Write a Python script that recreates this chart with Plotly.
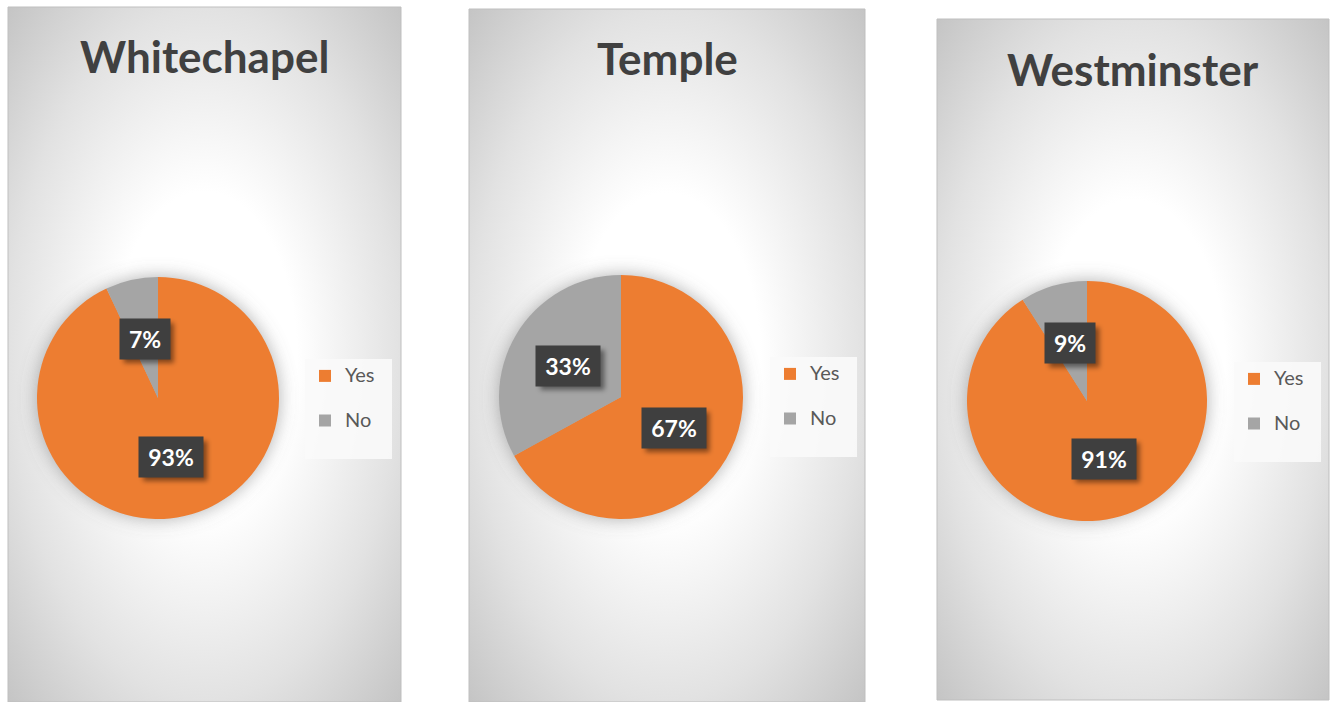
import base64
import math

import plotly.graph_objects as go

W, H = 1331, 702

# Survey answers per station (percent of respondents)
SITES = ["Whitechapel", "Temple", "Westminster"]
LABELS = ["Yes", "No"]
YES_PCT = [93, 67, 91]
NO_PCT = [7, 33, 9]

ORANGE = "#ED7D31"
GREY = "#A5A5A5"
TEXT_DARK = "#404040"

# Layout in pixels: panel frames (x0, y0, x1, y1) measured from the top-left,
# pie centre / radius, and legend box left edge / vertical centre.
PANELS = [(8, 7, 401, 702), (469, 9, 865, 702), (937, 19, 1329, 700)]
PIES = [(158, 398, 121), (621, 397, 122), (1087, 401, 120)]
LEGENDS = [(305, 409), (770, 407), (1234, 412)]
TITLE_Y = [56, 58, 69]


def px(x):
    return x / W


def py(y):
    return 1 - y / H


def svg_uri(svg):
    return "data:image/svg+xml;base64," + base64.b64encode(svg.encode()).decode()


def panel_background(w, h, cx, cy, r):
    """Radial grey-to-white fill with a soft glow behind the pie."""
    return f"""<svg xmlns="http://www.w3.org/2000/svg" width="{w}" height="{h}" viewBox="0 0 {w} {h}" preserveAspectRatio="none">
<defs>
<radialGradient id="g" cx="0.5" cy="0.5" r="0.71" gradientUnits="objectBoundingBox">
<stop offset="0" stop-color="#FFFFFF"/>
<stop offset="0.33" stop-color="#FFFFFF"/>
<stop offset="0.7" stop-color="#E2E2E2"/>
<stop offset="1" stop-color="#C4C4C4"/>
</radialGradient>
<filter id="b" x="-50%" y="-50%" width="200%" height="200%"><feGaussianBlur stdDeviation="9"/></filter>
</defs>
<rect width="{w}" height="{h}" fill="url(#g)"/>
<circle cx="{cx}" cy="{cy}" r="{r}" fill="#6F6F6F" fill-opacity="0.55" filter="url(#b)"/>
</svg>"""


def slice_midpoints(values):
    """Angles (radians, clockwise from 12 o'clock) of each slice centre."""
    total = sum(values)
    out, acc = [], 0.0
    for v in values:
        out.append(2 * math.pi * (acc + v / 2) / total)
        acc += v
    return out


fig = go.Figure()
images, shapes, annotations = [], [], []
shadow_rects = []
legend_layouts = {}

for i, site in enumerate(SITES):
    x0, y0, x1, y1 = PANELS[i]
    cx, cy, r = PIES[i]
    values = [YES_PCT[i], NO_PCT[i]]
    legend_id = "legend" if i == 0 else f"legend{i + 1}"

    images.append(dict(
        source=svg_uri(panel_background(x1 - x0, y1 - y0, cx - x0, cy - y0, r)),
        xref="paper", yref="paper", x=px(x0), y=py(y0),
        sizex=(x1 - x0) / W, sizey=(y1 - y0) / H,
        xanchor="left", yanchor="top", sizing="stretch", layer="below",
    ))
    shapes.append(dict(
        type="rect", xref="paper", yref="paper",
        x0=px(x0), x1=px(x1), y0=py(y1), y1=py(y0),
        line=dict(color="#BFBFBF", width=1), fillcolor="rgba(0,0,0,0)", layer="above",
    ))

    # larger first line for the label, blank second line for row spacing
    legend_text = [f"<span style='font-size:20px'>{lab}</span>\u00a0\u00a0\u00a0<br>\u00a0" for lab in LABELS]
    fig.add_trace(go.Pie(
        name=site,
        values=values,
        labels=legend_text,
        marker=dict(colors=[ORANGE, GREY], line=dict(width=0)),
        sort=False,
        direction="clockwise",
        rotation=0,
        textinfo="none",
        hoverinfo="skip",
        domain=dict(x=[px(cx - r), px(cx + r)], y=[py(cy + r), py(cy - r)]),
        legend=legend_id,
        legendgroup=site,
    ))

    lx, ly = LEGENDS[i]
    legend_layouts[legend_id] = dict(
        x=px(lx), y=py(ly), xanchor="left", yanchor="middle",
        bgcolor="rgba(250,250,250,0.9)", borderwidth=0,
        font=dict(family="Lato", size=16, color="#595959"),
        valign="top", itemclick=False, itemdoubleclick=False,
        visible=True,
    )

    annotations.append(dict(
        text=site, xref="paper", yref="paper", x=px((x0 + x1) / 2), y=py(TITLE_Y[i]),
        xanchor="center", yanchor="middle", showarrow=False,
        font=dict(family="Lato", size=44, color=TEXT_DARK, weight="bold"),
    ))

    # value labels sit halfway out along each slice's centre line
    for v, ang in zip(values, slice_midpoints(values)):
        lxp = cx + 0.5 * r * math.sin(ang)
        lyp = cy - 0.5 * r * math.cos(ang)
        bw = 50 if v < 10 else 64
        bh = 40
        shadow_rects.append((lxp - bw / 2 + 4, lyp - bh / 2 + 4, bw, bh))
        annotations.append(dict(
            text=f"{v}%", xref="paper", yref="paper", x=px(lxp), y=py(lyp),
            xanchor="center", yanchor="middle", showarrow=False,
            width=bw, height=bh, borderpad=0, bgcolor="#3F3F3F",
            font=dict(family="Lato", size=23, color="#FFFFFF", weight="bold"),
        ))

# soft drop shadows under the value label boxes
shadow_svg = (
    f'<svg xmlns="http://www.w3.org/2000/svg" width="{W}" height="{H}" viewBox="0 0 {W} {H}">'
    '<defs><filter id="s" x="-50%" y="-50%" width="200%" height="200%">'
    '<feGaussianBlur stdDeviation="2.5"/></filter></defs>'
    + "".join(
        f'<rect x="{x:.1f}" y="{y:.1f}" width="{w}" height="{h}" fill="#000" fill-opacity="0.45" filter="url(#s)"/>'
        for x, y, w, h in shadow_rects
    )
    + "</svg>"
)
images.append(dict(
    source=svg_uri(shadow_svg), xref="paper", yref="paper", x=0, y=1,
    sizex=1, sizey=1, xanchor="left", yanchor="top", sizing="stretch", layer="above",
))

fig.update_layout(
    width=W, height=H,
    margin=dict(l=0, r=0, t=0, b=0),
    paper_bgcolor="#FFFFFF",
    plot_bgcolor="#FFFFFF",
    images=images,
    shapes=shapes,
    annotations=annotations,
    **legend_layouts,
)

fig.write_html("out.html", config={"displayModeBar": False})
